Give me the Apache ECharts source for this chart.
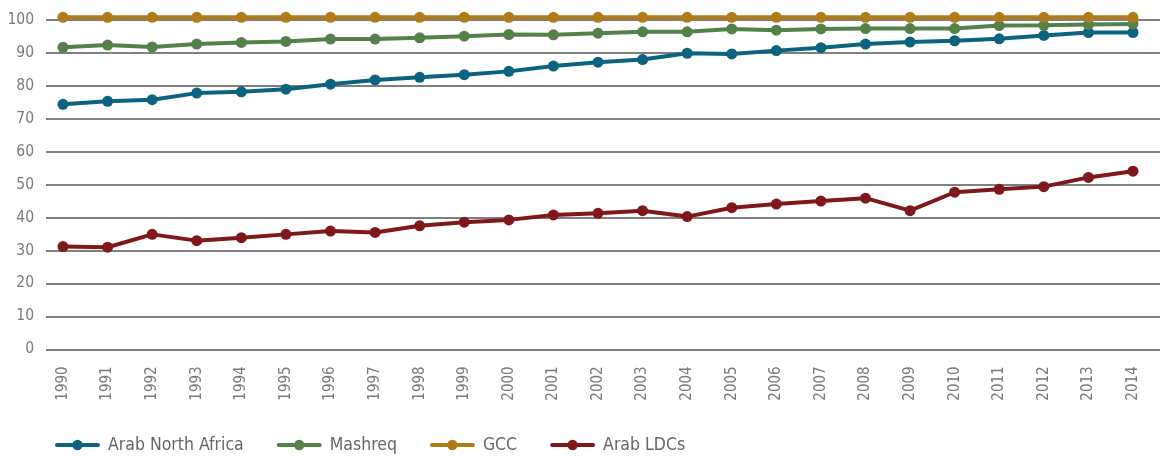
<!DOCTYPE html>
<html>
<head>
<meta charset="utf-8">
<script src="https://cdn.jsdelivr.net/npm/echarts@6/dist/echarts.min.js"></script>
<style>
html,body{margin:0;padding:0;background:#fff;}
#chart{width:1160px;height:456px;}
</style>
</head>
<body>
<div id="chart"></div>
<script>
var years = ['1990','1991','1992','1993','1994','1995','1996','1997','1998','1999','2000','2001','2002','2003','2004','2005','2006','2007','2008','2009','2010','2011','2012','2013','2014'];
var northAfrica = [74.4,75.3,75.8,77.8,78.2,79.0,80.5,81.8,82.6,83.4,84.4,86.0,87.2,88.0,89.9,89.7,90.7,91.6,92.7,93.3,93.7,94.3,95.3,96.2,96.2];
var mashreq = [91.7,92.4,91.8,92.7,93.2,93.5,94.2,94.2,94.6,95.1,95.6,95.5,96.0,96.4,96.4,97.3,96.9,97.3,97.4,97.4,97.4,98.3,98.4,98.6,98.8];
var gcc = [100.8,100.8,100.8,100.8,100.8,100.8,100.8,100.8,100.8,100.8,100.8,100.8,100.8,100.8,100.8,100.8,100.8,100.8,100.8,100.8,100.8,100.8,100.8,100.8,100.8];
var ldc = [31.2,31.0,34.9,33.0,33.9,34.9,35.9,35.5,37.5,38.6,39.3,40.8,41.3,42.1,40.3,43.0,44.1,45.0,45.9,42.1,47.7,48.6,49.4,52.2,54.1];
var seriesNames = ['Arab North Africa','Mashreq','GCC','Arab LDCs'];
var colors = ['#0b6380','#54804a','#b07c1a','#80171a'];
var yTicks = {min:0, max:100, interval:10};

var FONT = "'DejaVu Sans Condensed','Liberation Sans',sans-serif";
var chart = echarts.init(document.getElementById('chart'));
var dataSets = [northAfrica, mashreq, gcc, ldc];
var series = dataSets.map(function(d, i){
  return {
    name: seriesNames[i], type:'line', xAxisIndex:1, yAxisIndex:1,
    data: d, symbol:'circle', symbolSize:11, clip:false,
    lineStyle:{width:4, color:colors[i]},
    itemStyle:{color:colors[i]},
    emphasis:{disabled:true}, animation:false
  };
});
chart.setOption({
  animation:false,
  color: colors,
  grid:[
    {left:46, right:0, top:20, bottom:106.7},
    {left:63, right:27, top:20, bottom:106.7}
  ],
  legend:{
    left:50, top:431, itemWidth:41, itemHeight:13, itemGap:33,
    data: seriesNames,
    lineStyle:{width:4, cap:'round'},
    textStyle:{fontFamily:FONT, fontSize:17.5, color:'#666', padding:[0,0,0,5]}
  },
  xAxis:[
    {gridIndex:0, type:'value', show:false, min:0, max:1},
    {gridIndex:1, type:'category', data:years, boundaryGap:false,
     axisLine:{show:false}, axisTick:{show:false},
     axisLabel:{rotate:90, margin:17, fontFamily:FONT, fontSize:15, color:'#7a7a7a'}}
  ],
  yAxis:[
    {gridIndex:0, type:'value', min:yTicks.min, max:yTicks.max, interval:yTicks.interval,
     axisLine:{show:false}, axisTick:{show:false},
     axisLabel:{margin:12, fontFamily:FONT, fontSize:15.5, color:'#7a7a7a'},
     splitLine:{lineStyle:{color:'#808080', width:2}}},
    {gridIndex:1, type:'value', min:yTicks.min, max:yTicks.max, interval:yTicks.interval, show:false,
     splitLine:{show:false}}
  ],
  series: series
});
</script>
</body>
</html>
